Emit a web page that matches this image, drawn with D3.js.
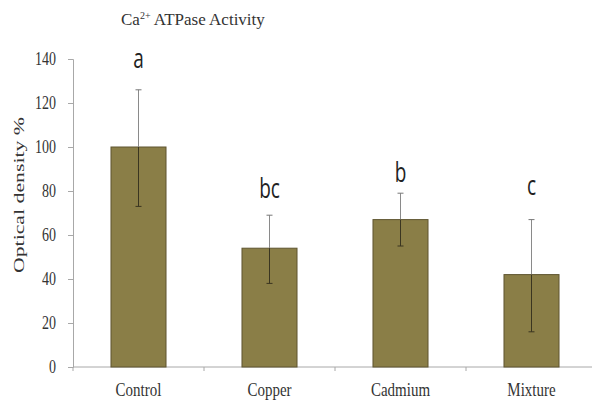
<!DOCTYPE html>
<html><head><meta charset="utf-8">
<script src="https://cdn.jsdelivr.net/npm/d3@7"></script>
<style>body{margin:0;background:#fff}</style>
</head><body>
<svg id="c" width="592" height="402"></svg>
<script>
const categories = ["Control","Copper","Cadmium","Mixture"];
const values = [100, 54, 67, 42];
const errUpper = [126, 69, 79, 67];
const errLower = [73, 38, 55, 16];
const letters = ["a","bc","b","c"];
const letterAt = [136, 77, 84, 78];
const yTicks = [0,20,40,60,80,100,120,140];

const svg = d3.select("#c");
const x = d3.scaleBand().domain(categories).range([73, 597]).paddingInner(0.58).paddingOuter(0.29);
const y = d3.scaleLinear().domain([0,140]).range([367, 59]);
const cx = d => x(d) + x.bandwidth()/2;

// y axis
const ya = svg.append("g").attr("transform","translate(73,0)")
  .call(d3.axisLeft(y).tickValues(yTicks).tickSize(5).tickPadding(12));
ya.select(".domain").attr("stroke","#a8a8a8");
ya.selectAll(".tick line").attr("stroke","#a8a8a8");
ya.selectAll(".tick text").attr("font-family","Liberation Serif, serif").attr("font-size",14)
  .attr("fill","#333").attr("dy","0.3em").attr("transform","scale(1,1.3)");

// x axis
const xs = d3.scaleLinear().domain([0,4]).range([73,597]);
const xa = svg.append("g").attr("transform","translate(0,367)");
xa.append("line").attr("x1",73).attr("x2",592).attr("y1",0).attr("y2",0).attr("stroke","#a8a8a8");
xa.selectAll("line.t").data([0,1,2,3]).join("line").attr("class","t")
  .attr("x1",d=>xs(d)).attr("x2",d=>xs(d)).attr("y1",0).attr("y2",4).attr("stroke","#a8a8a8");
xa.selectAll("text").data(categories).join("text")
  .attr("transform",d=>`translate(${cx(d)},29) scale(1,1.2)`).attr("text-anchor","middle")
  .attr("font-family","Liberation Serif, serif").attr("font-size",15).attr("fill","#333").text(d=>d);

// bars
svg.selectAll("rect.bar").data(categories).join("rect").attr("class","bar")
  .attr("x",d=>x(d)).attr("width",x.bandwidth())
  .attr("y",(d,i)=>y(values[i])).attr("height",(d,i)=>y(0)-y(values[i]))
  .attr("fill","#8a7e47").attr("stroke","#5e5530").attr("stroke-width",1);

// error bars
const eb = svg.selectAll("g.eb").data(categories).join("g").attr("class","eb");
eb.append("line").attr("x1",cx).attr("x2",cx)
  .attr("y1",(d,i)=>y(errUpper[i])).attr("y2",(d,i)=>y(values[i])).attr("stroke","#8a8a8a");
eb.append("line").attr("x1",cx).attr("x2",cx)
  .attr("y1",(d,i)=>y(values[i])).attr("y2",(d,i)=>y(errLower[i])).attr("stroke","#3a3520");
eb.append("line").attr("x1",d=>cx(d)-3).attr("x2",d=>cx(d)+3)
  .attr("y1",(d,i)=>y(errUpper[i])).attr("y2",(d,i)=>y(errUpper[i])).attr("stroke","#777");
eb.append("line").attr("x1",d=>cx(d)-3).attr("x2",d=>cx(d)+3)
  .attr("y1",(d,i)=>y(errLower[i])).attr("y2",(d,i)=>y(errLower[i])).attr("stroke","#3a3520");

// letters
svg.selectAll("text.let").data(categories).join("text").attr("class","let")
  .attr("transform",(d,i)=>`translate(${cx(d)},${y(letterAt[i])}) scale(1,1.4)`)
  .attr("text-anchor","middle").attr("font-family","Open Sans, DejaVu Sans, sans-serif")
  .attr("font-size",19).attr("fill","#222").text((d,i)=>letters[i]);

// title
const t = svg.append("text").attr("x",121).attr("y",25).attr("font-family","Liberation Serif, serif")
  .attr("font-size",17).attr("fill","#333");
t.append("tspan").text("Ca");
t.append("tspan").attr("font-size",10).attr("dy",-6).text("2+");
t.append("tspan").attr("dy",6).text(" ATPase Activity");

// y label
svg.append("text").attr("transform","translate(24,195) rotate(-90)").attr("text-anchor","middle")
  .attr("font-family","Liberation Serif, serif").attr("font-size",14).attr("fill","#333")
  .attr("textLength",156).attr("lengthAdjust","spacingAndGlyphs")
  .text("Optical density %");
</script>
</body></html>
